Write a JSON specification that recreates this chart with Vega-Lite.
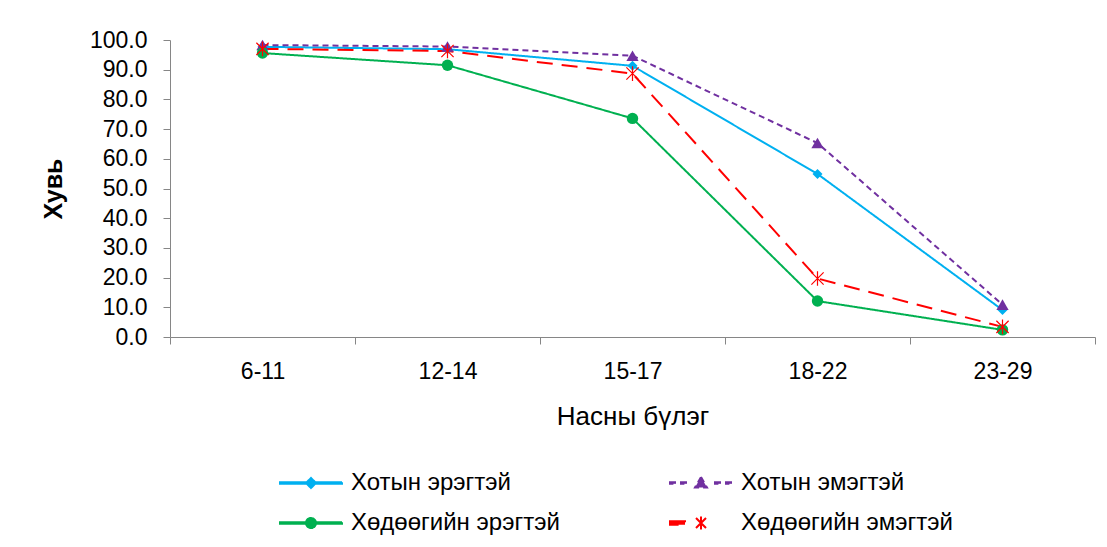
{
  "$schema": "https://vega.github.io/schema/vega-lite/v6.json",
  "autosize": "none",
  "width": 925,
  "height": 297,
  "padding": {"left": 170, "top": 40, "right": 12, "bottom": 210},
  "background": "white",
  "config": {"view": {"stroke": null}, "font": "Liberation Sans"},
  "data": {"values": [
    {"age": "6-11", "series": "Хотын эрэгтэй", "value": 97.7},
    {"age": "12-14", "series": "Хотын эрэгтэй", "value": 96.9},
    {"age": "15-17", "series": "Хотын эрэгтэй", "value": 91.3},
    {"age": "18-22", "series": "Хотын эрэгтэй", "value": 54.9},
    {"age": "23-29", "series": "Хотын эрэгтэй", "value": 9.1},
    {"age": "6-11", "series": "Хотын эмэгтэй", "value": 98.3},
    {"age": "12-14", "series": "Хотын эмэгтэй", "value": 97.8},
    {"age": "15-17", "series": "Хотын эмэгтэй", "value": 94.7},
    {"age": "18-22", "series": "Хотын эмэгтэй", "value": 65.3},
    {"age": "23-29", "series": "Хотын эмэгтэй", "value": 10.9},
    {"age": "6-11", "series": "Хөдөөгийн эрэгтэй", "value": 95.6},
    {"age": "12-14", "series": "Хөдөөгийн эрэгтэй", "value": 91.5},
    {"age": "15-17", "series": "Хөдөөгийн эрэгтэй", "value": 73.6},
    {"age": "18-22", "series": "Хөдөөгийн эрэгтэй", "value": 12.1},
    {"age": "23-29", "series": "Хөдөөгийн эрэгтэй", "value": 2.4},
    {"age": "6-11", "series": "Хөдөөгийн эмэгтэй", "value": 97.0},
    {"age": "12-14", "series": "Хөдөөгийн эмэгтэй", "value": 96.3},
    {"age": "15-17", "series": "Хөдөөгийн эмэгтэй", "value": 88.7},
    {"age": "18-22", "series": "Хөдөөгийн эмэгтэй", "value": 19.7},
    {"age": "23-29", "series": "Хөдөөгийн эмэгтэй", "value": 3.4}
  ]},
  "encoding": {
    "x": {
      "field": "age", "type": "nominal",
      "sort": ["6-11", "12-14", "15-17", "18-22", "23-29"],
      "scale": {"type": "band", "paddingInner": 0, "paddingOuter": 0},
      "axis": {
        "title": "Насны бүлэг", "labelAngle": 0, "tickBand": "extent", "tickSize": 7,
        "domainColor": "#868686", "tickColor": "#868686",
        "labelFontSize": 23, "labelPadding": 16, "labelColor": "black",
        "titleFontSize": 26, "titleFontWeight": "normal", "titlePadding": 20, "titleColor": "black"
      }
    },
    "y": {
      "field": "value", "type": "quantitative",
      "scale": {"domain": [0, 100]},
      "axis": {
        "title": "Хувь", "values": [0, 10, 20, 30, 40, 50, 60, 70, 80, 90, 100], "format": ".1f",
        "grid": false, "tickSize": 7, "domainColor": "#868686", "tickColor": "#868686",
        "labelFontSize": 23, "labelPadding": 16, "labelColor": "black",
        "titleFontSize": 25, "titleFontWeight": "bold", "titlePadding": 23, "titleColor": "black"
      }
    }
  },
  "layer": [
    {
      "mark": {"type": "line"},
      "encoding": {
        "color": {
          "field": "series", "type": "nominal",
          "scale": {"domain": ["Хотын эрэгтэй", "Хотын эмэгтэй", "Хөдөөгийн эрэгтэй", "Хөдөөгийн эмэгтэй"],
                    "range": ["#00B0F0", "#7030A0", "#00B050", "#FF0000"]},
          "legend": {
            "orient": "none", "legendX": 108, "legendY": 431, "columns": 2, "direction": "horizontal", "title": null,
            "symbolSize": 400, "symbolOffset": 21, "labelOffset": 28, "symbolStrokeWidth": 1,
            "labelFontSize": 24, "labelColor": "black", "columnPadding": 106, "rowPadding": 16,
            "padding": 0, "offset": 0, "labelLimit": 0,
            "encode": {"symbols": {"update": {
              "shape": {"signal": "datum.value === 'Хотын эрэгтэй' ? 'M-3.1,-0.07H3.1V0.07H-3.1ZM0,-0.5L0.5,0L0,0.5L-0.5,0Z' : datum.value === 'Хотын эмэгтэй' ? 'M-3.1,-0.07H-2.5V0.07H-3.1ZM-2.0,-0.07H-1.4V0.07H-2.0ZM1.4,-0.07H2.0V0.07H1.4ZM2.5,-0.07H3.1V0.07H2.5ZM0,-0.6L0.6,0.45L-0.6,0.45Z' : datum.value === 'Хөдөөгийн эрэгтэй' ? 'M-3.1,-0.07H3.1V0.07H-3.1ZM0.5,0A0.5,0.5 0 1,1 -0.5,0A0.5,0.5 0 1,1 0.5,0Z' : 'M-3.1,-0.18H-1.6V0.18H-3.1ZM-0.5,-0.5L0.5,0.5M-0.5,0.5L0.5,-0.5M0,-0.65V0.65'"},
              "fill": {"scale": "color", "field": "value"},
              "stroke": {"scale": "color", "field": "value"},
              "strokeWidth": {"value": 1},
              "strokeDash": {"value": []},
              "size": {"value": 400},
              "opacity": {"value": 1}
            }}}
          }
        },
        "strokeDash": {
          "field": "series", "type": "nominal", "legend": null,
          "scale": {"domain": ["Хотын эрэгтэй", "Хотын эмэгтэй", "Хөдөөгийн эрэгтэй", "Хөдөөгийн эмэгтэй"],
                    "range": [[1, 0], [6, 4], [1, 0], [16, 9]]}
        },
        "strokeWidth": {
          "field": "series", "type": "nominal", "legend": null,
          "scale": {"domain": ["Хотын эрэгтэй", "Хотын эмэгтэй", "Хөдөөгийн эрэгтэй", "Хөдөөгийн эмэгтэй"],
                    "range": [2, 2, 2, 5]}
        }
      }
    },
    {
      "transform": [{"filter": "datum.series === 'Хотын эрэгтэй'"}],
      "mark": {"type": "point", "shape": "diamond", "filled": true, "color": "#00B0F0", "size": 100, "opacity": 1}
    },
    {
      "transform": [{"filter": "datum.series === 'Хотын эмэгтэй'"}],
      "mark": {"type": "point", "shape": "triangle-up", "filled": true, "color": "#7030A0", "size": 150, "opacity": 1}
    },
    {
      "transform": [{"filter": "datum.series === 'Хөдөөгийн эрэгтэй'"}],
      "mark": {"type": "point", "shape": "circle", "filled": true, "color": "#00B050", "size": 130, "opacity": 1}
    },
    {
      "transform": [{"filter": "datum.series === 'Хөдөөгийн эмэгтэй'"}],
      "mark": {"type": "point", "shape": "M-1,-1L1,1M-1,1L1,-1M0,-1.2L0,1.2", "filled": false, "color": "#FF0000", "size": 150, "strokeWidth": 1.2, "opacity": 1}
    }
  ]
}
